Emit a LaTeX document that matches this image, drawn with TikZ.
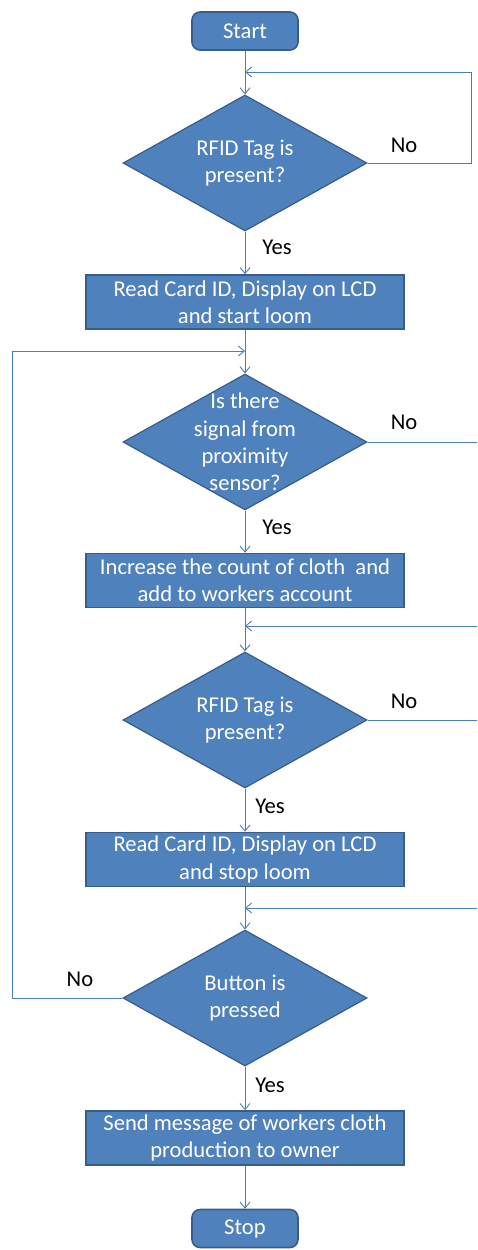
\documentclass[tikz,border=0pt]{standalone}
\usepackage{fontspec}
\setmainfont{Carlito}
\usetikzlibrary{shapes.geometric,arrows.meta}
\definecolor{boxfill}{HTML}{4F81BD}
\definecolor{boxline}{HTML}{385D8A}
\definecolor{conncol}{HTML}{4A7EBB}
\tikzset{
  txt/.style={font=\fontsize{22.6}{27.3}\selectfont},
  procbox/.style={txt, draw=boxline, line width=1.6pt, fill=boxfill, text=white, align=center, minimum width=318pt, minimum height=54pt, inner sep=0pt},
  termbox/.style={txt, draw=boxline, line width=1.6pt, fill=boxfill, text=white, rounded corners=8pt, minimum width=106pt, minimum height=38pt, inner sep=0pt},
  decbox/.style={diamond, draw=boxline, line width=1.2pt, fill=boxfill, minimum width=244pt, minimum height=136pt, inner sep=0pt},
  dectext/.style={txt, text=white, align=center, inner sep=0pt},
  lbl/.style={txt, text=black, inner sep=0pt},
  conn/.style={draw=conncol, line width=0.9pt},
  arr/.style={conn, -{Straight Barb[length=6pt,width=10pt,line width=0.9pt]}},
}
\begin{document}
\begin{tikzpicture}[x=1pt,y=-1pt]
\useasboundingbox (0,0) rectangle (477,1250);
% nodes
\node[termbox] (start) at (245,31) {Start};
\node[decbox, label={[dectext]center:{RFID Tag is\\present?}}] (d1) at (245,163) {};
\node[procbox] (b1) at (245,302) {Read Card ID, Display on LCD\\and start loom};
\node[decbox, label={[dectext]center:{Is there\\signal from\\proximity\\sensor?}}] (d2) at (245,442) {};
\node[procbox] (b2) at (245,580.5) {Increase the count of cloth\ \ and\\add to workers account};
\node[decbox, label={[dectext]center:{RFID Tag is\\present?}}] (d3) at (245,720) {};
\node[procbox] (b3) at (245,859.5) {Read Card ID, Display on LCD\\and stop loom};
\node[decbox, label={[dectext]center:{Button is\\pressed}}] (d4) at (245,998) {};
\node[procbox] (b4) at (245,1138) {Send message of workers cloth\\production to owner};
\node[termbox] (stop) at (245,1228.5) {Stop};
% labels
\node[lbl] (no1) at (404,145) {No};
\node[lbl] (yes1) at (277,247) {Yes};
\node[lbl] (no2) at (404,422) {No};
\node[lbl] (yes2) at (277,527) {Yes};
\node[lbl] (no3) at (404,701) {No};
\node[lbl] (yes3) at (270,806) {Yes};
\node[lbl] (no4) at (80,979) {No};
\node[lbl] (yes4) at (270,1085) {Yes};
% helper coordinates
\coordinate (m1) at (245,72);
\coordinate (c1) at (471,72);
\coordinate (m2) at (245,351);
\coordinate (c2) at (12,351);
\coordinate (r2) at (477,442);
\coordinate (m3) at (245,626);
\coordinate (r3a) at (477,626);
\coordinate (r3b) at (477,720);
\coordinate (m4) at (245,908);
\coordinate (r4) at (477,908);
% connectors
\draw[arr] (start.south) -- (d1.north);
\draw[arr] (d1.east) -| (c1) -- (m1);
\draw[arr] (d1.south) -- (b1.north);
\draw[arr] (b1.south) -- (d2.north);
\draw[arr] (d4.west) -| (c2) -- (m2);
\draw[conn] (d2.east) -- (r2);
\draw[arr] (d2.south) -- (b2.north);
\draw[arr] (b2.south) -- (d3.north);
\draw[arr] (r3a) -- (m3);
\draw[conn] (d3.east) -- (r3b);
\draw[arr] (d3.south) -- (b3.north);
\draw[arr] (b3.south) -- (d4.north);
\draw[arr] (r4) -- (m4);
\draw[arr] (d4.south) -- (b4.north);
\draw[arr] (b4.south) -- (stop.north);
\end{tikzpicture}
\end{document}
